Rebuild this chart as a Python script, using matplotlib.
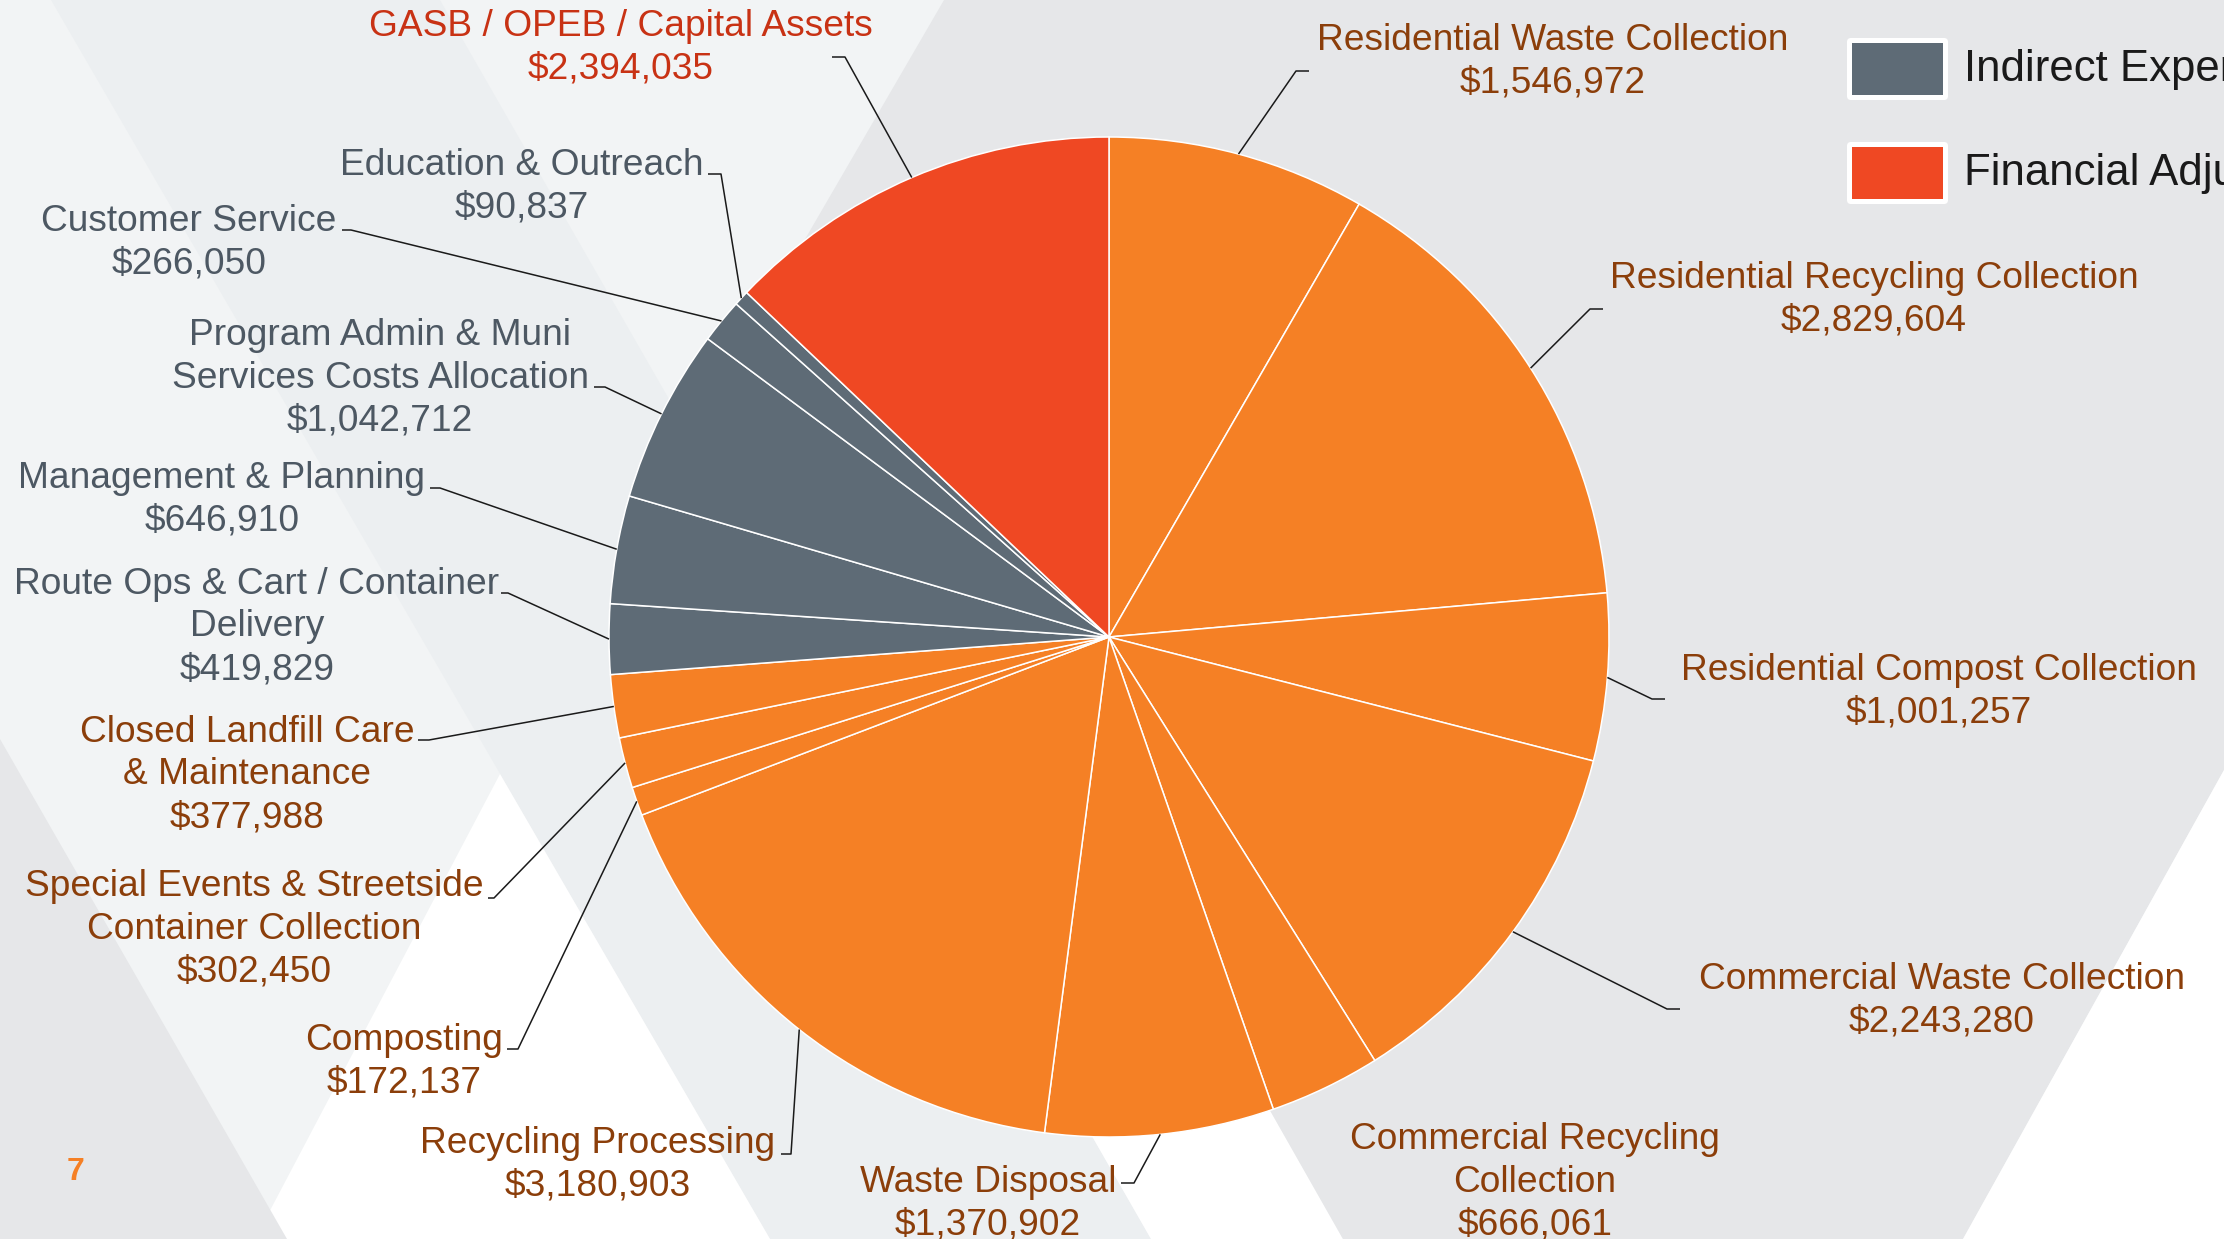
import matplotlib
matplotlib.use('Agg')
import matplotlib.pyplot as plt
from matplotlib.patches import Polygon, FancyBboxPatch, Rectangle
import numpy as np

# ---------------- data ----------------
categories = [
    "Residential Waste Collection",
    "Residential Recycling Collection",
    "Residential Compost Collection",
    "Commercial Waste Collection",
    "Commercial Recycling\nCollection",
    "Waste Disposal",
    "Recycling Processing",
    "Composting",
    "Special Events & Streetside\nContainer Collection",
    "Closed Landfill Care\n& Maintenance",
    "Route Ops & Cart / Container\nDelivery",
    "Management & Planning",
    "Program Admin & Muni\nServices Costs Allocation",
    "Customer Service",
    "Education & Outreach",
    "GASB / OPEB / Capital Assets",
]
values = [1546972, 2829604, 1001257, 2243280, 666061, 1370902, 3180903,
          172137, 302450, 377988, 419829, 646910, 1042712, 266050, 90837,
          2394035]
groups = ["Direct"] * 10 + ["Indirect"] * 5 + ["Financial"]
legend_labels = ["Direct Expenses", "Indirect Expenses", "Financial Adjustments"]
legend_groups = ["Direct", "Indirect", "Financial"]
page_number = "7"

# ---------------- styles ----------------
slice_colors = {"Direct": "#F58025", "Indirect": "#5E6B76", "Financial": "#EF4823"}
text_colors = {"Direct": "#8B3E0A", "Indirect": "#4D5863", "Financial": "#C83214"}

W, H = 2224, 1239
CX, CY, R = 1109, 637, 500

# label layout (pixel coords, y down): text centre, elbow of leader, tick length
label_center = [(1553, 58.5), (1874, 296.5), (1939, 688), (1942, 997),
                (1535, 1178.5), (988, 1200), (598, 1161), (404, 1058),
                (254, 926), (247, 771.5), (257, 623.5), (222, 496),
                (380, 374.5), (189, 239), (522, 183.5), (621, 44)]
label_dy = 3.5
leader_elbow = [(1296, 71), (1590, 309), (1652, 699), (1667, 1009),
                None, (1134, 1183), (791, 1154), (518, 1049),
                (494, 898), (429, 740), (508, 593), (440, 488),
                (605, 387), (351, 230), (721, 174), (845, 57)]
tick_len = [13, 13, 13, 13, 0, -13, -10, -11, -6, -11, -7, -10, -11, -9, -13, -13]

plt.rcParams['font.family'] = ['Liberation Sans', 'DejaVu Sans']

fig = plt.figure(figsize=(W / 100, H / 100), dpi=100)
ax = fig.add_axes([0, 0, 1, 1])

# ---------------- background ----------------
def bg(poly, color):
    ax.add_patch(Polygon(poly, closed=True, facecolor=color, edgecolor='none', zorder=0))

def x_on(x0, x1, y):
    # line from (x0, 0) to (x1, H)
    return x0 + (x1 - x0) * y / H

bg([(0, 0), (W, 0), (W, H), (0, H)], "#F2F4F5")
bg([(51, 0), (440, 0), (1151, H), (770, H)], "#ECEFF1")
bg([(500, 774), (770, H), (255, H)], "#FFFFFF")
bg([(x_on(440, 1151, 800), 800), (x_on(640, 1343, 800), 800), (1343, H), (1151, H)], "#FFFFFF")
bg([(944, 0), (W, 0), (W, 770), (1963, H), (1343, H), (790, 265)], "#E6E7E9")
bg([(W, 770), (W, H), (1963, H)], "#FFFFFF")
bg([(0, 739), (287, H), (0, H)], "#E6E7E9")

# ---------------- pie ----------------
cols = [slice_colors[g] for g in groups]
wedges, _ = ax.pie(values, colors=cols, startangle=270, counterclock=True,
                   center=(CX, CY), radius=R,
                   wedgeprops=dict(edgecolor='white', linewidth=1.1))
for w in wedges:
    w.set_zorder(2)

ax.set_xlim(0, W)
ax.set_ylim(H, 0)
ax.set_aspect('auto')
ax.axis('off')

# ---------------- labels ----------------
for i, (name, v, g) in enumerate(zip(categories, values, groups)):
    tx, ty = label_center[i]
    ax.text(tx, ty + label_dy, f"{name}\n${v:,}", ha='center', va='center',
            fontsize=26.7, color=text_colors[g], linespacing=1.28, zorder=4)
    el = leader_elbow[i]
    if el is not None:
        w = wedges[i]
        mid = np.deg2rad((w.theta1 + w.theta2) / 2)
        px = CX + R * np.cos(mid)
        py = CY + R * np.sin(mid)
        ax.plot([px, el[0], el[0] + tick_len[i]], [py, el[1], el[1]],
                color='#1A1A1A', lw=1.1, zorder=3, solid_capstyle='butt')

# ---------------- legend ----------------
leg_x0, leg_w, leg_h = 1847, 101, 62
leg_tops = [-62, 38, 142]
for top, lg, lab in zip(leg_tops, legend_groups, legend_labels):
    ax.add_patch(FancyBboxPatch((leg_x0, top), leg_w, leg_h,
                                boxstyle="round,pad=0,rounding_size=4",
                                facecolor='white', edgecolor='none', zorder=4))
    ax.add_patch(Rectangle((leg_x0 + 5, top + 5), leg_w - 10, leg_h - 10,
                           facecolor=slice_colors[lg], edgecolor='none', zorder=5))
    ax.text(1964, top + leg_h / 2, lab, ha='left', va='center', fontsize=31.5,
            color='#1A1A1A', zorder=5)

# page number
ax.text(75, 1172, page_number, ha='center', va='center', fontsize=23,
        fontweight='bold', color='#F58025', zorder=4)

fig.savefig('out.png', dpi=100)
